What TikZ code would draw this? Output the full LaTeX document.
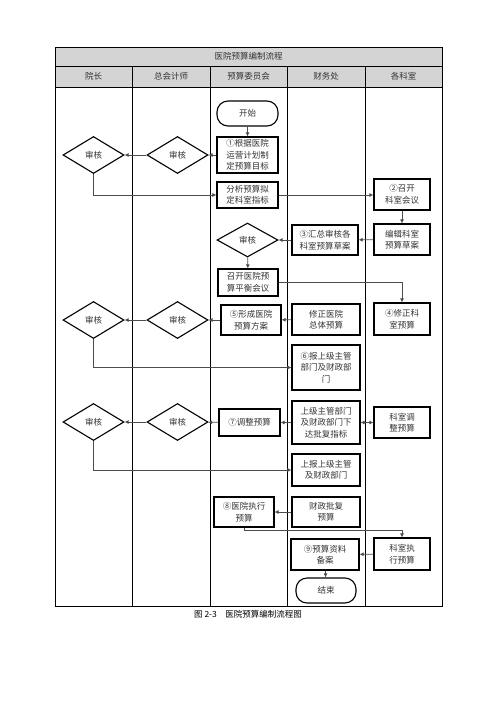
\documentclass[tikz,border=0pt]{standalone}
\usepackage{fontspec}
\newfontfamily\cjk{Noto Sans CJK SC}
\usetikzlibrary{shapes.geometric,arrows.meta}
\begin{document}
\begin{tikzpicture}[x=1pt,y=-1pt,
 every node/.style={font=\cjk\fontsize{8.5}{11.5}\selectfont, text=black!80},
 box/.style={draw=black, line width=1.1pt, inner sep=0pt, align=center},
 term/.style={box, rounded corners=11pt},
 dia/.style={draw=black, line width=1.1pt, diamond, inner sep=0pt, minimum width=61pt, minimum height=37pt},
 conn/.style={draw=black!70, line width=0.8pt, -{Latex[length=4pt,width=4pt]}},
 dconn/.style={draw=black!70, line width=0.8pt, {Latex[length=4pt,width=4pt]}-{Latex[length=4pt,width=4pt]}},
 gridline/.style={draw=black, line width=0.9pt}]

\useasboundingbox (0,0) rectangle (496,702);
\fill[white] (0,0) rectangle (496,702);
\fill[black!17] (55,47) rectangle (442,87);
\draw[gridline] (55,47) rectangle (442,606);
\draw[gridline] (55,66) -- (442,66) (55,87) -- (442,87);
\foreach \x in {132,210,287,365} \draw[gridline] (\x,66) -- (\x,606);

% headers
\node (title) at (248.5,56.5) {医院预算编制流程};
\node (h1) at (93.5,76.5) {院长};
\node (h2) at (171,76.5) {总会计师};
\node (h3) at (248.5,76.5) {预算委员会};
\node (h4) at (326,76.5) {财务处};
\node (h5) at (403.5,76.5) {各科室};

% nodes
\node[term, minimum width=61pt, minimum height=25pt] (start) at (247.5,113.5) {开始};
\node[box, minimum width=61pt, minimum height=36pt] (b1) at (247.5,155) {①根据医院\\运营计划制\\定预算目标};
\node[dia] (d1a) at (93.5,155) {审核};
\node[dia] (d1b) at (177.5,155) {审核};
\node[box, minimum width=61pt, minimum height=26pt] (b2) at (247.5,195) {分析预算拟\\定科室指标};
\node[box, minimum width=56pt, minimum height=31pt] (k2) at (402,194.5) {②召开\\科室会议};
\node[box, minimum width=56pt, minimum height=31pt] (k3) at (402,239.5) {编辑科室\\预算草案};
\node[box, minimum width=66pt, minimum height=30pt] (f3) at (325,240) {③汇总审核各\\科室预算草案};
\node[dia, minimum height=34pt] (d3) at (247.5,240) {审核};
\node[box, minimum width=60pt, minimum height=27pt] (b4) at (248,282.5) {召开医院预\\算平衡会议};
\node[box, minimum width=56pt, minimum height=32pt] (k4) at (402,319) {④修正科\\室预算};
\node[box, minimum width=68pt, minimum height=31pt] (f4) at (326,319.5) {修正医院\\总体预算};
\node[box, minimum width=60pt, minimum height=30pt] (b5) at (251,320) {⑤形成医院\\预算方案};
\node[dia] (d5a) at (93.5,320) {审核};
\node[dia] (d5b) at (177.5,320) {审核};
\node[box, minimum width=68pt, minimum height=45pt] (f6) at (326,367.5) {⑥报上级主管\\部门及财政部\\门};
\node[box, minimum width=68pt, minimum height=43pt] (f7) at (326,422.5) {上级主管部门\\及财政部门下\\达批复指标};
\node[box, minimum width=56pt, minimum height=31pt] (k7) at (402,422.5) {科室调\\整预算};
\node[box, minimum width=61pt, minimum height=27pt] (b7) at (249.5,422.5) {⑦调整预算};
\node[dia] (d7a) at (93.5,422) {审核};
\node[dia] (d7b) at (177.5,422) {审核};
\node[box, minimum width=68pt, minimum height=32pt] (f8) at (326,470) {上报上级主管\\及财政部门};
\node[box, minimum width=68pt, minimum height=30pt] (f9) at (326,512) {财政批复\\预算};
\node[box, minimum width=60pt, minimum height=30pt] (b9) at (244,512) {⑧医院执行\\预算};
\node[box, minimum width=56pt, minimum height=32pt] (k10) at (402,554) {科室执\\行预算};
\node[box, minimum width=68pt, minimum height=31pt] (f10) at (325,554.5) {⑨预算资料\\备案};
\node[term, minimum width=60pt, minimum height=25pt] (end) at (326,590.5) {结束};

\node[text=black] (cap) at (248,614) {图 2-3\quad 医院预算编制流程图};

% connectors
\draw[conn] (start) -- (b1);
\draw[conn] (b1) -- (d1b);
\draw[conn] (d1b) -- (d1a);
\draw[conn] (d1a.south) |- (b2.west);
\draw[conn] (b2.east) -- (b2.east -| k2.west);
\draw[conn] (k2) -- (k3);
\draw[conn] (k3) -- (f3);
\draw[conn] (f3) -- (d3);
\draw[conn] (d3) -- (b4);
\draw[conn] (b4.east) -| (k4.north);
\draw[conn] (f4) -- (b5);
\draw[conn] (b5) -- (d5b);
\draw[conn] (d5b) -- (d5a);
\draw[conn] (d5a.south) |- (f6.west);
\draw[dconn] (f7) -- (k7);
\draw[conn] (f7) -- (b7);
\draw[conn] (b7) -- (d7b);
\draw[conn] (d7b) -- (d7a);
\draw[conn] (d7a.south) |- (f8.west);
\draw[conn] (f9) -- (b9);
\draw[conn] (b9.south) -- ++(0,3) -| (k10.north);
\draw[conn] (k10) -- (f10);
\draw[conn] (f10) -- (end);
\end{tikzpicture}
\end{document}
